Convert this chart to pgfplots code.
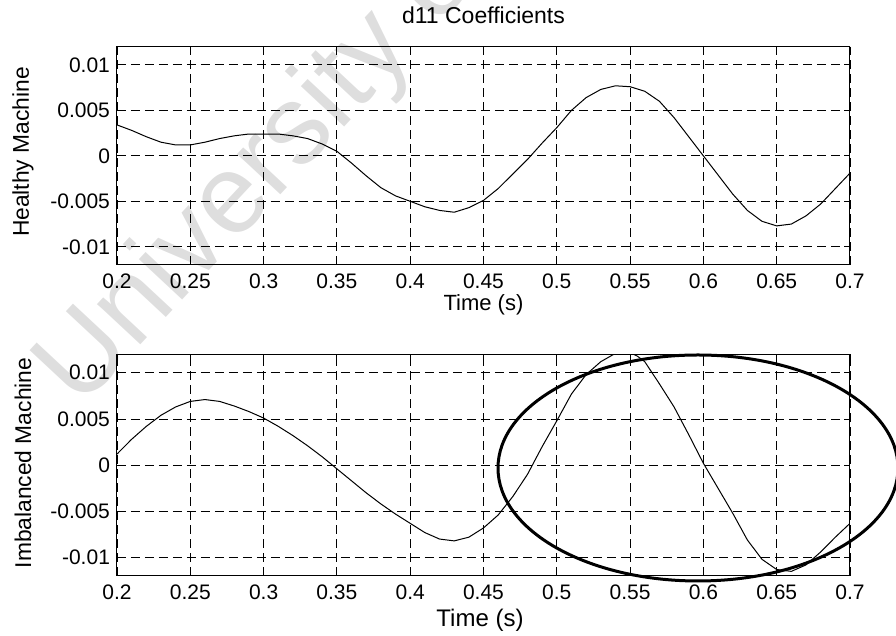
\documentclass[border=0pt]{standalone}
\usepackage{fontspec}
\setmainfont{Liberation Sans}
\usepackage{pgfplots}
\pgfplotsset{compat=1.18}
\pgfplotstableread{
x y
0.20 0.0034
0.21 0.0028
0.22 0.0021
0.23 0.0015
0.24 0.0012
0.25 0.0012
0.26 0.0015
0.27 0.0019
0.28 0.0022
0.29 0.0024
0.30 0.0024
0.31 0.0024
0.32 0.0022
0.33 0.0019
0.34 0.0013
0.35 0.0005
0.36 -0.0008
0.37 -0.0022
0.38 -0.0035
0.39 -0.0044
0.40 -0.0050
0.41 -0.0056
0.42 -0.0060
0.43 -0.0062
0.44 -0.0057
0.45 -0.0049
0.46 -0.0036
0.47 -0.0020
0.48 -0.0004
0.49 0.0014
0.50 0.0031
0.51 0.0050
0.52 0.0064
0.53 0.0073
0.54 0.0077
0.55 0.0076
0.56 0.0071
0.57 0.0060
0.58 0.0042
0.59 0.0021
0.60 0.0000
0.61 -0.0021
0.62 -0.0042
0.63 -0.0060
0.64 -0.0072
0.65 -0.0077
0.66 -0.0075
0.67 -0.0066
0.68 -0.0053
0.69 -0.0036
0.70 -0.0019
}\healthy
\pgfplotstableread{
x y
0.200 0.0012
0.210 0.0028
0.220 0.0042
0.230 0.0054
0.240 0.0063
0.250 0.0069
0.260 0.0071
0.270 0.0069
0.280 0.0064
0.290 0.0058
0.300 0.0051
0.310 0.0042
0.320 0.0032
0.330 0.0021
0.340 0.0009
0.350 -0.0004
0.360 -0.0017
0.370 -0.0030
0.380 -0.0042
0.390 -0.0053
0.400 -0.0063
0.410 -0.0073
0.420 -0.0080
0.430 -0.0082
0.440 -0.0078
0.450 -0.0068
0.460 -0.0054
0.470 -0.0034
0.480 -0.0010
0.490 0.0020
0.500 0.0048
0.510 0.0077
0.520 0.0098
0.530 0.0112
0.540 0.0121
0.547 0.0124
0.555 0.0118
0.560 0.0112
0.570 0.0088
0.580 0.0063
0.590 0.0033
0.600 0.0002
0.610 -0.0025
0.620 -0.0052
0.630 -0.0081
0.640 -0.0102
0.650 -0.0113
0.660 -0.0115
0.670 -0.0108
0.680 -0.0094
0.690 -0.0078
0.700 -0.0063
}\imbalanced
\pgfplotsset{
  myaxis/.style={
    scale only axis,
    anchor=south west,
    width=366.5pt,
    xmin=0.2, xmax=0.7, ymin=-0.012, ymax=0.012,
    xtick={0.2,0.25,0.3,0.35,0.4,0.45,0.5,0.55,0.6,0.65,0.7},
    xticklabels={0.2,0.25,0.3,0.35,0.4,0.45,0.5,0.55,0.6,0.65,0.7},
    ytick={-0.01,-0.005,0,0.005,0.01},
    yticklabels={-0.01,-0.005,0,0.005,0.01},
    scaled ticks=false,
    grid=major,
    major grid style={black, line width=0.45pt, dash pattern=on 4.5pt off 2.5pt},
    tick align=inside,
    major tick length=3pt,
    tick style={black, line width=0.45pt},
    axis line style={black, line width=0.5pt},
    ticklabel style={font=\fontsize{10.5}{12}\selectfont},
    xticklabel style={yshift=-1pt},
    /pgf/number format/assume math mode=true,
  }
}
\begin{document}
\begin{tikzpicture}
\path[use as bounding box] (0,0) rectangle (448pt,318pt);
\node[rotate=47, anchor=base west, text=black!13, font=\fontsize{56}{58}\selectfont, inner sep=0pt] at (40pt,113pt) {University of Cape Town};
\begin{axis}[myaxis, at={(58.5pt,185.5pt)}, height=109.15pt]
\addplot[black, line width=0.5pt, no marks] table[x=x,y=y] {\healthy};
\end{axis}
\begin{axis}[myaxis, at={(58.5pt,30pt)}, height=110.85pt]
\addplot[black, line width=0.5pt, no marks] table[x=x,y=y] {\imbalanced};
\end{axis}
\draw[black, line width=1.5pt] (349pt,84pt) ellipse [x radius=100pt, y radius=56.5pt];
\node[font=\fontsize{11.5}{13}\selectfont] at (241.75pt,310.5pt) {d11 Coefficients};
\node[font=\fontsize{11}{13}\selectfont] at (241.75pt,165.5pt) {Time (s)};
\node[font=\fontsize{12}{14}\selectfont] at (240pt,7.65pt) {Time (s)};
\node[rotate=90, font=\fontsize{11.4}{13}\selectfont] at (11.5pt,242pt) {Healthy Machine};
\node[rotate=90, font=\fontsize{11.4}{13}\selectfont] at (11.5pt,86.5pt) {Imbalanced Machine};
\end{tikzpicture}
\end{document}
